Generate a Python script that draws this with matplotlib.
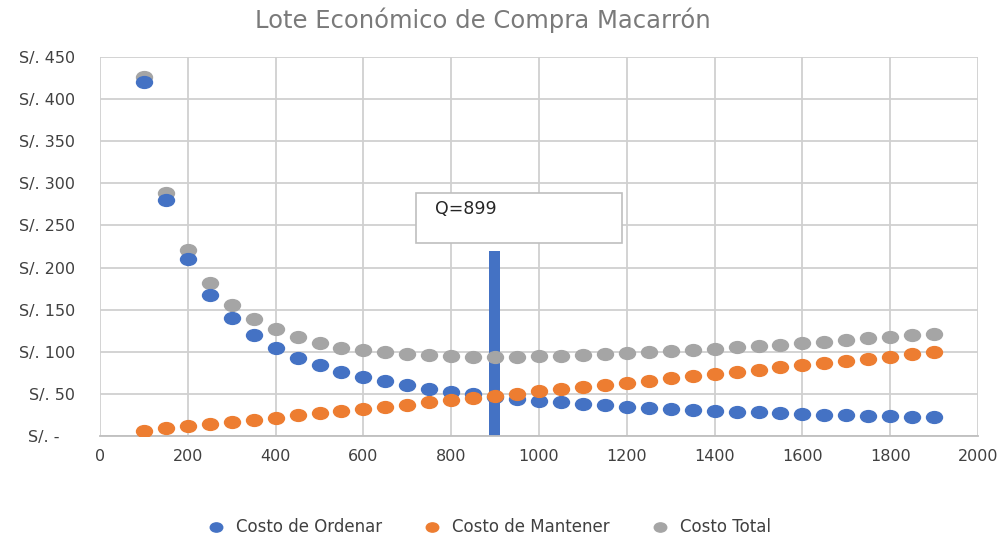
import matplotlib
matplotlib.use("Agg")
import matplotlib.pyplot as plt
from matplotlib.path import Path
from matplotlib.transforms import Affine2D
from matplotlib.patches import Rectangle
from matplotlib.lines import Line2D

plt.rcParams['font.family'] = ['DejaVu Sans']

# cantidades de pedido
q = [100, 150, 200, 250, 300, 350, 400, 450, 500, 550, 600, 650, 700, 750, 800,
     850, 900, 950, 1000, 1050, 1100, 1150, 1200, 1250, 1300, 1350, 1400, 1450,
     1500, 1550, 1600, 1650, 1700, 1750, 1800, 1850, 1900]
costo_ordenar = [420, 280, 210, 168, 140, 120, 105, 93, 84, 76, 70, 65, 60, 56, 52.5,
                 49.4, 46.7, 44.2, 42, 40, 38.2, 36.5, 35, 33.6, 32.3, 31.1, 30, 29,
                 28, 27.1, 26.3, 25.5, 24.7, 24, 23.3, 22.7, 22.1]
costo_mantener = [6.5, 9, 11.5, 14, 16.6, 19.2, 21.8, 24.4, 27, 29.5, 32.2, 34.8, 37.3,
                  40, 42.5, 45.1, 47.7, 50.3, 52.9, 55.5, 58, 60.6, 63.2, 65.8, 68.4,
                  71, 73.6, 76.2, 78.8, 81.4, 84, 86.6, 89.2, 91.8, 94.4, 97, 99.6]
costo_total = [426, 289, 221, 182, 156, 139, 127, 117, 111, 105, 102, 100, 97, 96, 95,
               94.4, 94.3, 94.4, 94.8, 95.4, 96.2, 97.1, 98.2, 99.4, 100.7, 102.1,
               103.6, 105.2, 106.8, 108.5, 110.3, 112.1, 113.9, 115.8, 117.7, 119.7, 121.7]
q_optimo = 899
barra_altura = 220

azul = '#4472C4'
naranja = '#ED7D31'
gris = '#A5A5A5'
texto = '#404040'

# marcador eliptico (la imagen original esta estirada)
elipse = Path.unit_circle().transformed(Affine2D().scale(1.35, 1.0))

fig = plt.figure(figsize=(10, 5.37), dpi=100)
ax = fig.add_axes([0.1, 0.188, 0.878, 0.706])

ax.bar([q_optimo], [barra_altura], width=24, color=azul, zorder=2)
ax.plot(q, costo_total, linestyle='none', marker=elipse, markersize=11.5, color=gris, zorder=3)
ax.plot(q, costo_ordenar, linestyle='none', marker=elipse, markersize=11.5, color=azul, zorder=4)
ax.plot(q, costo_mantener, linestyle='none', marker=elipse, markersize=11.5, color=naranja, zorder=4)

# cuadro de texto
ax.add_patch(Rectangle((720, 229), 469, 60, facecolor='white', edgecolor='#BFBFBF',
                       linewidth=1.2, zorder=5))
ax.text(762, 269, 'Q=899', fontsize=12.5, color='#262626', va='center', zorder=6)

ax.set_xlim(0, 2000)
ax.set_ylim(0, 450)
ax.set_xticks(range(0, 2001, 200))
ax.set_yticks(range(0, 451, 50))
ax.set_yticklabels(['S/. -   '] + ['S/. %d' % v for v in range(50, 451, 50)])
ax.grid(True, color='#D0D0D0', linewidth=1.3)
ax.set_axisbelow(True)
for s in ['top', 'right', 'left']:
    ax.spines[s].set_visible(False)
ax.spines['bottom'].set_color('#BFBFBF')
ax.spines['bottom'].set_linewidth(1.3)
ax.tick_params(axis='y', length=0, colors=texto, labelsize=11.5, pad=18)
ax.tick_params(axis='x', length=0, colors=texto, labelsize=11.5, pad=9)

fig.text(0.483, 0.962, 'Lote Económico de Compra Macarrón', fontsize=17.5, color='#7A7A7A',
         ha='center', va='center')

handles = [Line2D([], [], linestyle='none', marker=elipse, markersize=9, color=c)
           for c in (azul, naranja, gris)]
fig.legend(handles, ['Costo de Ordenar', 'Costo de Mantener', 'Costo Total'],
           loc='center', bbox_to_anchor=(0.485, 0.018), ncol=3, frameon=False,
           fontsize=12, labelcolor=texto, handletextpad=0.2, columnspacing=2.0)

fig.savefig('out.png', dpi=100)
